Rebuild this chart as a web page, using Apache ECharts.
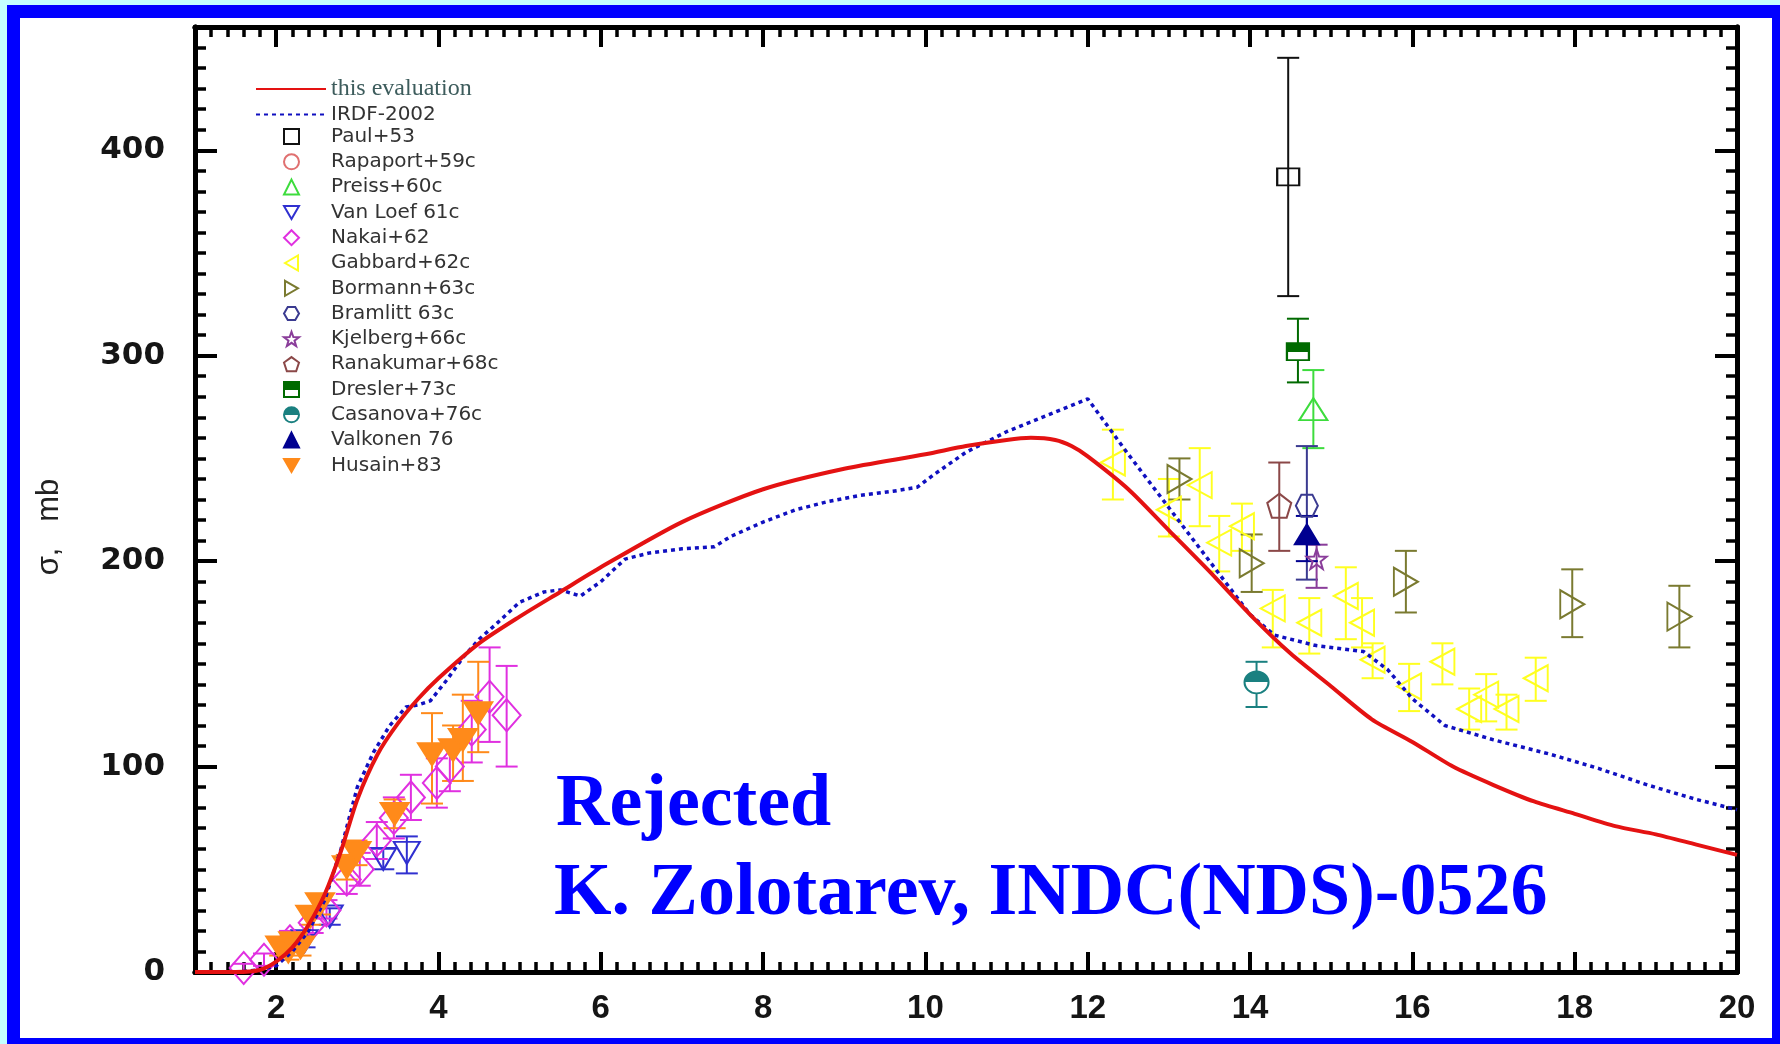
<!DOCTYPE html>
<html>
<head>
<meta charset="utf-8">
<script src="https://cdn.jsdelivr.net/npm/echarts@6/dist/echarts.min.js"></script>
<style>
  html, body { margin: 0; padding: 0; background: #c4ffff; }
  #frame { position: absolute; left: 7px; top: 5px; width: 1773px; height: 1039px; background: #0000ff; }
  #inner { position: absolute; left: 20px; top: 18px; width: 1752px; height: 1020px; background: #fff; }
  #chart { position: absolute; left: 0; top: 0; width: 1780px; height: 1044px; }
</style>
</head>
<body>
<div id="frame"></div>
<div id="inner"></div>
<div id="chart"></div>
<script>
// axis ticks
const xMajor = [2, 4, 6, 8, 10, 12, 14, 16, 18, 20];
const yMajor = [0, 100, 200, 300, 400];

// this evaluation (red curve)
const evalX = [1, 1.5, 1.8, 2.0, 2.2, 2.4, 2.6, 2.8, 3.0, 3.25, 3.5, 3.75, 4.0, 4.5, 5.0, 5.5, 6.0, 7.0, 8.0, 9.0, 10.0, 10.5, 11.0, 11.3, 11.6, 11.8, 12.0, 12.5, 13.0, 13.5, 14.0, 14.5, 15.0, 15.5, 16.0, 16.5, 17.0, 17.5, 18.0, 18.5, 19.0, 19.5, 20];
const evalY = [0, 0, 1, 5, 12, 23, 38, 59, 84, 106, 121, 133, 143, 160, 173, 185, 197, 219, 235, 245, 252, 256, 259, 260, 259, 256, 251, 235, 215, 195, 174, 155, 139, 123, 112, 100, 91, 83, 77, 71, 67, 62, 57];

// IRDF-2002 (blue dotted)
const irdfX = [1, 1.5, 1.8, 2.0, 2.2, 2.4, 2.6, 2.8, 3.0, 3.2, 3.4, 3.6, 3.75, 3.9, 4.1, 4.3, 4.5, 4.7, 5.0, 5.3, 5.5, 5.75, 6.0, 6.3, 6.6, 7.0, 7.4, 7.6, 8.0, 8.4, 8.8, 9.2, 9.6, 9.9, 10.1, 10.5, 11.0, 11.5, 12.0, 12.5, 13.0, 13.5, 14.0, 14.3, 14.8, 15.4, 15.7, 16.0, 16.4, 17.0, 17.7, 18.3, 18.9, 19.5, 20];
const irdfY = [0, 0, 1, 3, 10, 20, 35, 60, 90, 107, 120, 129, 130, 132, 142, 153, 162, 169, 180, 185, 186, 183, 190, 201, 204, 206, 207, 212, 219, 225, 229, 232, 234, 236, 242, 253, 263, 271, 279, 252, 226, 200, 174, 164, 159, 156, 147, 133, 120, 113, 106, 99, 91, 84, 79];

// experimental points: [energy, sigma, low, high]
const paul = [[14.47, 387, 329, 445]];
const rapaport = [];
const preiss = [[14.78, 274, 255, 293]];
const vanLoef = [[2.35, 15, 12, 18], [2.66, 27, 23, 31], [3.32, 55, 50, 60], [3.61, 58, 48, 66]];
const nakai = [[1.6, 2, 0, 4], [1.85, 6, 3, 9], [2.17, 15, 10, 20], [2.45, 24, 19, 29], [2.62, 30, 26, 35], [2.87, 45, 38, 52], [3.03, 50, 42, 58], [3.24, 64, 55, 73], [3.45, 75, 65, 85], [3.66, 85, 74, 96], [3.98, 92, 80, 104], [4.14, 100, 88, 113], [4.41, 118, 102, 132], [4.63, 134, 112, 158], [4.84, 125, 100, 149]];
const gabbard = [[12.31, 248, 264, 230], [13.0, 225, 240, 212], [13.38, 237, 255, 217], [13.62, 209, 222, 195], [13.9, 217, 228, 205], [14.28, 177, 186, 158], [14.73, 170, 182, 155], [15.18, 183, 197, 162], [15.38, 170, 182, 158], [15.51, 152, 160, 143], [15.96, 139, 150, 127], [16.37, 151, 160, 140], [16.7, 128, 138, 118], [16.91, 135, 145, 122], [17.16, 128, 135, 118], [17.52, 143, 153, 132]];
const bormann = [[13.13, 240, 230, 250], [14.02, 199, 185, 213], [15.92, 190, 175, 205], [17.97, 179, 163, 196], [19.29, 173, 158, 188]];
const bramlitt = [[14.7, 227, 191, 256]];
const kjelberg = [[14.82, 201, 187, 208]];
const ranakumar = [[14.36, 227, 205, 248]];
const dresler = [[14.59, 302, 287, 318]];
const casanova = [[14.08, 141, 129, 151]];
const valkonen = [[14.7, 213, 200, 222]];
const husain = [[2.05, 12, 8, 16], [2.15, 10, 6, 14], [2.21, 14, 10, 18], [2.3, 12, 8, 16], [2.42, 27, 23, 31], [2.54, 33, 28, 38], [2.87, 51, 45, 57], [2.99, 58, 52, 64], [3.46, 77, 70, 84], [3.92, 106, 82, 126], [4.18, 108, 93, 120], [4.3, 113, 93, 135], [4.49, 126, 107, 151]];

const hexPath = 'path://M5,0 L15,0 L20,8.66 L15,17.32 L5,17.32 L0,8.66 Z';
const starPath = 'path://M10,0 L12.35,6.76 L19.51,6.91 L13.8,11.24 L15.88,18.09 L10,14 L4.12,18.09 L6.2,11.24 L0.49,6.91 L7.65,6.76 Z';
const pentPath = 'path://M10,0 L19.51,6.91 L15.88,18.09 L4.12,18.09 L0.49,6.91 Z';
const downTri = 'path://M0,0 L20,0 L10,17.32 Z';
const leftTri = 'path://M0,10 L17.32,0 L17.32,20 Z';
const rightTri = 'path://M0,0 L17.32,10 L0,20 Z';

function halfFill(c) {
  return {
    type: 'linear', x: 0, y: 0, x2: 0, y2: 1,
    colorStops: [
      { offset: 0, color: c }, { offset: 0.5, color: c },
      { offset: 0.5, color: '#fff' }, { offset: 1, color: '#fff' }
    ]
  };
}

function pairs(xs, ys) {
  return xs.map((x, i) => [x, ys[i]]);
}

const sets = [
  { name: 'Paul+53', data: paul, color: '#111', symbol: 'rect', size: [22, 17] },
  { name: 'Rapaport+59c', data: rapaport, color: '#e07070', symbol: 'circle', size: 16 },
  { name: 'Preiss+60c', data: preiss, color: '#3ddc3d', symbol: 'triangle', size: [28, 22] },
  { name: 'Van Loef 61c', data: vanLoef, color: '#3030d0', symbol: downTri, size: [26, 22] },
  { name: 'Nakai+62', data: nakai, color: '#e030e0', symbol: 'diamond', size: [28, 32] },
  { name: 'Gabbard+62c', data: gabbard, color: '#ffff20', symbol: leftTri, size: [24, 26] },
  { name: 'Bormann+63c', data: bormann, color: '#7a7a30', symbol: rightTri, size: [24, 28] },
  { name: 'Bramlitt 63c', data: bramlitt, color: '#3a3a90', symbol: hexPath, size: 22 },
  { name: 'Kjelberg+66c', data: kjelberg, color: '#8a3d9a', symbol: starPath, size: 20 },
  { name: 'Ranakumar+68c', data: ranakumar, color: '#8b4848', symbol: pentPath, size: 24 },
  { name: 'Dresler+73c', data: dresler, color: '#006a00', symbol: 'rect', size: [22, 17], half: true },
  { name: 'Casanova+76c', data: casanova, color: '#1a8080', symbol: 'circle', size: [24, 22], half: true },
  { name: 'Valkonen 76', data: valkonen, color: '#000090', symbol: 'triangle', size: [24, 20], filled: true },
  { name: 'Husain+83', data: husain, color: '#ff8a1a', symbol: downTri, size: [28, 22], filled: true }
];

function errRender(color) {
  return function (params, api) {
    const x = api.value(0);
    const a = api.coord([x, api.value(2)]);
    const b = api.coord([x, api.value(3)]);
    const hw = 11;
    const st = { stroke: color, lineWidth: 2 };
    return {
      type: 'group',
      children: [
        { type: 'line', shape: { x1: a[0], y1: a[1], x2: b[0], y2: b[1] }, style: st },
        { type: 'line', shape: { x1: a[0] - hw, y1: a[1], x2: a[0] + hw, y2: a[1] }, style: st },
        { type: 'line', shape: { x1: b[0] - hw, y1: b[1], x2: b[0] + hw, y2: b[1] }, style: st }
      ]
    };
  };
}

const series = [];
sets.forEach(s => {
  series.push({
    name: s.name + ' err',
    type: 'custom',
    renderItem: errRender(s.color),
    encode: { x: 0, y: 1 },
    data: s.data,
    z: 2
  });
});
sets.forEach(s => {
  series.push({
    name: s.name,
    type: 'scatter',
    symbol: s.symbol,
    symbolSize: s.size,
    itemStyle: {
      color: s.half ? halfFill(s.color) : (s.filled ? s.color : 'rgba(255,255,255,0)'),
      borderColor: s.color,
      borderWidth: 2,
      opacity: 1
    },
    data: s.data.map(d => [d[0], d[1]]),
    z: 3
  });
});
series.push({
  name: 'this evaluation',
  type: 'line',
  data: pairs(evalX, evalY),
  smooth: 0.25,
  symbol: 'none',
  itemStyle: { color: '#e41212' },
  lineStyle: { color: '#e41212', width: 4 },
  z: 5
});
series.push({
  name: 'IRDF-2002',
  type: 'line',
  data: pairs(irdfX, irdfY),
  symbol: 'none',
  itemStyle: { color: '#1010c0' },
  lineStyle: { color: '#1010c0', width: 3.5, type: [4, 4] },
  z: 4
});

const axisLine = { show: true, onZero: false, lineStyle: { color: '#000', width: 5 } };
const xLabelFont = { fontFamily: 'Liberation Sans', fontWeight: 'bold', fontSize: 33, color: '#151515' };
const yLabelFont = { fontFamily: 'DejaVu Sans', fontWeight: 'bold', fontSize: 31, color: '#151515' };

function xAx(pos, major) {
  return {
    type: 'value', position: pos, min: 1, max: 20,
    interval: major ? undefined : 0.2,
    axisLine: axisLine,
    axisTick: major
      ? { show: true, inside: true, length: 20, customValues: xMajor, lineStyle: { color: '#000', width: 4 } }
      : { show: true, inside: true, length: 10, lineStyle: { color: '#000', width: 3.5 } },
    axisLabel: (major && pos === 'bottom')
      ? Object.assign({ show: true, margin: 20, customValues: xMajor }, xLabelFont)
      : { show: false },
    splitLine: { show: false }
  };
}
function yAx(pos, major) {
  return {
    type: 'value', position: pos, min: 0, max: 460,
    interval: major ? undefined : 10,
    axisLine: axisLine,
    axisTick: major
      ? { show: true, inside: true, length: 22, customValues: yMajor, lineStyle: { color: '#000', width: 4 } }
      : { show: true, inside: true, length: 11, lineStyle: { color: '#000', width: 3.5 } },
    axisLabel: (major && pos === 'left')
      ? Object.assign({ show: true, margin: 30, customValues: yMajor }, yLabelFont)
      : { show: false },
    splitLine: { show: false }
  };
}

const legendText = { fontFamily: 'DejaVu Sans', fontSize: 20, color: '#333', lineHeight: 21 };

const chart = echarts.init(document.getElementById('chart'));
chart.setOption({
  animation: false,
  backgroundColor: 'transparent',
  grid: { left: 195, right: 43, top: 27, bottom: 72 },
  xAxis: [xAx('bottom', false), xAx('bottom', true), xAx('top', false), xAx('top', true)],
  yAxis: [yAx('left', false), yAx('left', true), yAx('right', false), yAx('right', true)],
  legend: [
    {
      orient: 'vertical',
      left: 250,
      top: 72,
      itemWidth: 70,
      itemHeight: 14,
      itemGap: 3,
      selectedMode: false,
      textStyle: legendText,
      data: [
        { name: 'this evaluation', itemStyle: { opacity: 0 }, textStyle: { fontFamily: 'Liberation Serif', fontSize: 24, color: '#3d5c5c' } },
        { name: 'IRDF-2002', itemStyle: { opacity: 0 } }
      ]
    },
    {
      orient: 'vertical',
      left: 278,
      top: 121,
      itemWidth: 15,
      itemHeight: 15,
      itemGap: 4.3,
      selectedMode: false,
      textStyle: Object.assign({ padding: [0, 0, 0, 27] }, legendText),
      data: sets.map(s => s.name)
    }
  ],
  graphic: [
    {
      type: 'text', x: 49, y: 527, rotation: Math.PI / 2,
      style: { text: 'σ,   mb', font: '31px "Liberation Sans"', fill: '#222', align: 'center', verticalAlign: 'middle' }
    },
    {
      type: 'text', x: 556, y: 806,
      style: { text: 'Rejected', font: 'bold 74px "Liberation Serif"', fill: '#0000ff', align: 'left', verticalAlign: 'middle' }
    },
    {
      type: 'text', x: 554, y: 895,
      style: { text: 'K. Zolotarev, INDC(NDS)-0526', font: 'bold 74px "Liberation Serif"', fill: '#0000ff', align: 'left', verticalAlign: 'middle' }
    }
  ],
  series: series
});
</script>
</body>
</html>
